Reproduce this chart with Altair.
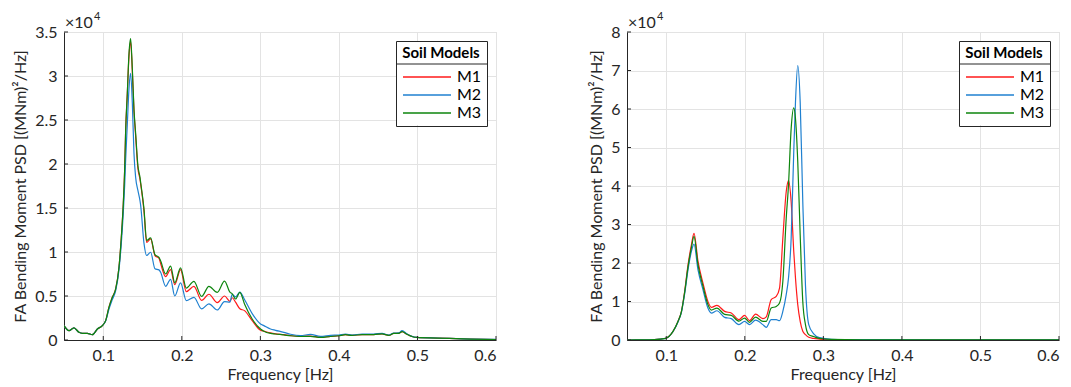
import altair as alt
import pandas as pd

# ---------------- data ----------------
series = ["M1", "M2", "M3"]
colors = ["#ff1a1a", "#1f80d0", "#0d850d"]

x_ticks = [0.1, 0.2, 0.3, 0.4, 0.5, 0.6]
y_ticks_left = [0, 5000, 10000, 15000, 20000, 25000, 30000, 35000]
y_ticks_right = [0, 10000, 20000, 30000, 40000, 50000, 60000, 70000, 80000]

f_left = [0.0500, 0.0564, 0.0627, 0.0691, 0.0733, 0.0797, 0.0861, 0.0925, 0.0988, 0.1030,
          0.1072, 0.1115, 0.1158, 0.1200, 0.1230, 0.1255, 0.1272, 0.1285, 0.1306, 0.1327,
          0.1348, 0.1370, 0.1391, 0.1412, 0.1441, 0.1467, 0.1476, 0.1518, 0.1552, 0.1603,
          0.1658, 0.1709, 0.1730, 0.1794, 0.1857, 0.1910, 0.1984, 0.2057, 0.2154, 0.2252,
          0.2345, 0.2451, 0.2544, 0.2612, 0.2642, 0.2684, 0.2739, 0.2798, 0.2896, 0.3002,
          0.3044, 0.3129, 0.3193, 0.3298, 0.3384, 0.3511, 0.3638, 0.3765, 0.3892, 0.3998,
          0.4083, 0.4168, 0.4296, 0.4443, 0.4550, 0.4635, 0.4697, 0.4761, 0.4804, 0.4868,
          0.4931, 0.4995, 0.5250, 0.5673, 0.6000]
m1_left = [1630, 1060, 1370, 870, 750, 750, 600, 1250, 1630, 2200,
           3700, 4850, 5800, 8260, 11700, 15500, 19300, 23800, 28000, 32200,
           33900, 30500, 26000, 23200, 19500, 18300, 17750, 14700, 11100, 11500,
           9600, 9300, 8700, 7200, 8000, 6300, 8000, 5500, 6100, 4500,
           5200, 4250, 5000, 4400, 4800, 4300, 3550, 3340, 2200, 1100,
           1000, 800, 700, 600, 500, 410, 450, 300, 420, 490,
           600, 520, 620, 620, 700, 520, 750, 760, 950, 650,
           400, 290, 220, 100, 50]
m2_left = [1630, 1060, 1370, 870, 750, 750, 600, 1250, 1630, 2150,
           3500, 4600, 5600, 8000, 11000, 14500, 17500, 20500, 24500, 28500,
           30300, 26900, 21200, 18500, 17000, 15850, 15300, 11000, 9600, 9970,
           8100, 7970, 7700, 6100, 6900, 5000, 6500, 4470, 4850, 3530,
           4100, 3410, 4350, 4300, 5200, 4900, 5450, 4600, 3000, 1820,
           1630, 1250, 1100, 870, 650, 490, 640, 410, 530, 570,
           680, 570, 680, 680, 750, 570, 790, 800, 1060, 680,
           410, 300, 230, 100, 60]
m3_left = [1630, 1060, 1370, 870, 750, 750, 600, 1250, 1630, 2200,
           3700, 4850, 5800, 8260, 11700, 15500, 19300, 23800, 28000, 32500,
           34250, 30800, 26200, 23500, 19800, 18500, 17900, 14900, 11300, 11600,
           9700, 9400, 9000, 7500, 8400, 6500, 8200, 5900, 6670, 4950,
           6100, 5420, 6700, 5450, 5250, 4660, 5420, 4100, 2390, 1250,
           1000, 750, 680, 580, 480, 400, 420, 300, 400, 480,
           600, 520, 620, 620, 700, 520, 750, 760, 950, 650,
           400, 290, 220, 100, 50]

f_right = [0.0500, 0.0700, 0.0850, 0.0930, 0.0993, 0.1086, 0.1149, 0.1193, 0.1234, 0.1277,
           0.1320, 0.1353, 0.1404, 0.1467, 0.1530, 0.1574, 0.1645, 0.1743, 0.1828, 0.1925,
           0.1997, 0.2060, 0.2137, 0.2230, 0.2273, 0.2336, 0.2400, 0.2442, 0.2484, 0.2527,
           0.2556, 0.2590, 0.2623, 0.2645, 0.2674, 0.2705, 0.2738, 0.2772, 0.2814, 0.2877,
           0.2950, 0.3100, 0.3500, 0.4500, 0.6000]
m1_right = [0, 20, 100, 250, 450, 2250, 4840, 7430, 12600, 19500,
            24700, 27700, 20400, 14800, 10000, 8470, 9000, 7430, 7000, 5280,
            6400, 5020, 6740, 5540, 6000, 10500, 11300, 13500, 26400, 38500,
            41400, 35900, 23000, 16100, 9200, 4840, 2250, 1400, 700, 400,
            250, 100, 50, 20, 10]
m2_right = [0, 20, 100, 250, 430, 2200, 4700, 7200, 12000, 18300,
            23000, 24900, 18200, 13100, 8300, 7000, 7600, 5880, 5540, 3990,
            4840, 4000, 5170, 3990, 3300, 5280, 5280, 5020, 7430, 11800,
            16100, 26400, 48900, 61800, 71300, 61800, 35900, 14300, 4000, 1600,
            600, 200, 80, 30, 10]
m3_right = [0, 20, 100, 250, 440, 2250, 4800, 7400, 12400, 19000,
            24000, 26900, 19500, 14000, 9200, 7750, 8300, 6650, 6400, 4880,
            5700, 4600, 5960, 4840, 4840, 8300, 8700, 9600, 15200, 31600,
            40200, 54900, 60300, 57500, 46300, 27300, 10000, 4000, 1400, 900,
            400, 150, 60, 20, 10]

# ---------------- styling ----------------
FONT = "Lato"
FS = 16
W, H = 432, 308
AX = "#262626"
LEG_X, LEG_Y, LEG_W, LEG_H = 332, 9, 92, 84


def long_table(freqs, a, b, c):
    rows = []
    for name, vals in zip(series, [a, b, c]):
        for fv, vv in zip(freqs, vals):
            rows.append({"f": fv, "v": vv, "s": name})
    return pd.DataFrame(rows)


def panel(df, ymax, yticks):
    xscale = alt.Scale(domain=[0.05, 0.6], nice=False, zero=False)
    yscale = alt.Scale(domain=[0, ymax], nice=False)

    xaxis = alt.Axis(values=x_ticks, format=".1f", title="Frequency [Hz]",
                     grid=True, ticks=False, labelPadding=7, titlePadding=3)
    yaxis = alt.Axis(values=yticks, labelExpr="format(datum.value/10000, '~g')",
                     title="FA Bending Moment PSD [(MNm)²/Hz]",
                     grid=True, ticks=False, labelPadding=7, titlePadding=6)

    # white box under the legend
    box = alt.Chart(pd.DataFrame({"k": [0]})).mark_rect(fill="white").encode(
        x=alt.value(LEG_X), x2=alt.value(LEG_X + LEG_W),
        y=alt.value(LEG_Y), y2=alt.value(LEG_Y + LEG_H))

    lines = alt.Chart(df).mark_line(strokeWidth=1.2, interpolate="monotone", clip=True).encode(
        x=alt.X("f:Q", scale=xscale, axis=xaxis),
        y=alt.Y("v:Q", scale=yscale, axis=yaxis),
        color=alt.Color("s:N", scale=alt.Scale(domain=series, range=colors),
                        legend=alt.Legend(title="Soil Models", orient="none",
                                          legendX=LEG_X, legendY=LEG_Y,
                                          symbolType="M-1,0H7", symbolSize=144,
                                          symbolStrokeWidth=1.6,
                                          strokeColor=AX, padding=5,
                                          titleFont=FONT, titleFontSize=15,
                                          titleFontWeight="bold", titleColor="black",
                                          titleAnchor="middle", titlePadding=8,
                                          labelFont=FONT, labelFontSize=FS,
                                          labelColor="black", labelOffset=40,
                                          rowPadding=2)),
    )

    sep = alt.Chart(pd.DataFrame({"k": [0]})).mark_rule(color=AX, strokeWidth=1).encode(
        x=alt.value(LEG_X), x2=alt.value(LEG_X + LEG_W), y=alt.value(LEG_Y + 23))

    xt = alt.Chart(pd.DataFrame({"f": x_ticks})).mark_rule(color=AX).encode(
        x=alt.X("f:Q", scale=xscale, axis=xaxis), y=alt.value(H), y2=alt.value(H - 4))
    yt = alt.Chart(pd.DataFrame({"v": yticks})).mark_rule(color=AX).encode(
        y=alt.Y("v:Q", scale=yscale, axis=yaxis), x=alt.value(0), x2=alt.value(4))

    expo = alt.Chart(pd.DataFrame({"k": [0]})).mark_text(
        align="left", baseline="alphabetic", font=FONT, fontSize=FS, color=AX).encode(
        x=alt.value(1), y=alt.value(-4), text=alt.value("×10"))
    expo4 = alt.Chart(pd.DataFrame({"k": [0]})).mark_text(
        align="left", baseline="alphabetic", font=FONT, fontSize=11, color=AX).encode(
        x=alt.value(30), y=alt.value(-12), text=alt.value("4"))

    return alt.layer(box, lines, sep, xt, yt, expo, expo4).properties(width=W, height=H)


left = panel(long_table(f_left, m1_left, m2_left, m3_left), 35000, y_ticks_left)
right = panel(long_table(f_right, m1_right, m2_right, m3_right), 80000, y_ticks_right)

chart = alt.hconcat(left, right, spacing=131, bounds="flush").resolve_scale(
    color="independent").resolve_legend(color="independent").configure_axis(
    labelFont=FONT, labelFontSize=FS, labelColor=AX,
    titleFont=FONT, titleFontSize=FS, titleFontWeight="normal", titleColor=AX,
    domainColor=AX, domainWidth=1, gridColor="#e3e3e3", gridWidth=1,
).configure_view(stroke="#d4d4d4", strokeWidth=1).properties(
    padding={"left": 4, "top": 2, "right": 2, "bottom": 0}, background="white")

chart.save("out.html", embed_options={"renderer": "svg", "actions": False})
